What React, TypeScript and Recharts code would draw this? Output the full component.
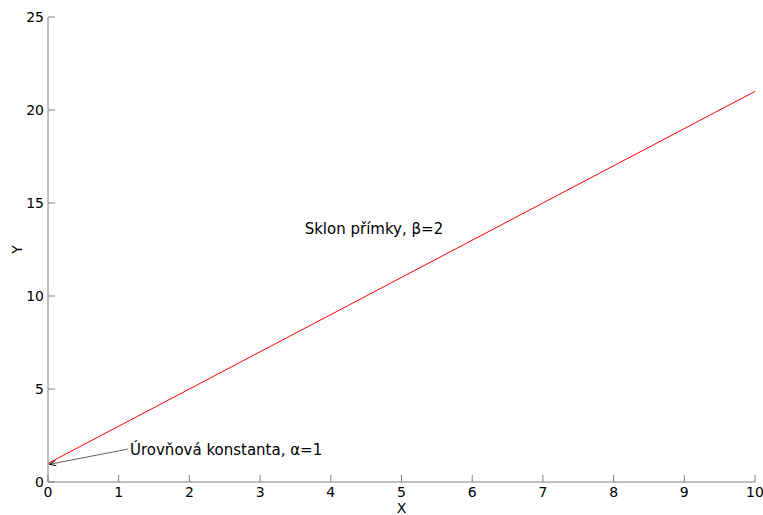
import React from 'react';
import {
  LineChart,
  Line,
  XAxis,
  YAxis,
  ReferenceDot,
  ReferenceLine,
} from 'recharts';

// Regression line Y = alpha + beta * X
const xValues = [0, 10];
const yValues = [1, 21];
const xTicks = [0, 1, 2, 3, 4, 5, 6, 7, 8, 9, 10];
const yTicks = [0, 5, 10, 15, 20, 25];

const slopeLabel = 'Sklon přímky, β=2';
const slopeLabelAt = { x: 3.63, y: 13.6 };
const interceptLabel = 'Úrovňová konstanta, α=1';
const interceptLabelAt = { x: 1.16, y: 1.72 };
const interceptPoint = { x: 0.02, y: 0.95 };

const data = xValues.map((x, i) => ({ x, y: yValues[i] }));

const FONT = '"DejaVu Sans", Verdana, sans-serif';
const AXIS = '#808080';
const TICK_LEN = 7;

const BottomTick = (props: any) => {
  const { x, y, payload } = props;
  return (
    <g>
      <line x1={x} y1={y} x2={x} y2={y - TICK_LEN} stroke={AXIS} />
      <text x={x} y={y + 15} textAnchor="middle" fontFamily={FONT} fontSize={14} fill="#000">
        {payload.value}
      </text>
    </g>
  );
};

const TopTick = (props: any) => {
  const { x, y } = props;
  return <line x1={x} y1={y} x2={x} y2={y + TICK_LEN} stroke={AXIS} />;
};

const LeftTick = (props: any) => {
  const { x, y, payload } = props;
  return (
    <g>
      <line x1={x} y1={y} x2={x + TICK_LEN} y2={y} stroke={AXIS} />
      <text x={x - 4} y={y + 5} textAnchor="end" fontFamily={FONT} fontSize={14} fill="#000">
        {payload.value}
      </text>
    </g>
  );
};

const RightTick = (props: any) => {
  const { x, y } = props;
  return <line x1={x} y1={y} x2={x - TICK_LEN} y2={y} stroke={AXIS} />;
};

const ArrowShape = (props: any) => {
  const { x1, y1, x2, y2 } = props;
  const ang = Math.atan2(y2 - y1, x2 - x1);
  const len = 7;
  const spread = 0.38;
  const ax = x2 - len * Math.cos(ang - spread);
  const ay = y2 - len * Math.sin(ang - spread);
  const bx = x2 - len * Math.cos(ang + spread);
  const by = y2 - len * Math.sin(ang + spread);
  return (
    <g>
      <line x1={x1} y1={y1} x2={x2} y2={y2} stroke="#606060" strokeWidth={1} />
      <path d={`M${ax},${ay} L${x2},${y2} L${bx},${by}`} fill="none" stroke="#000" strokeWidth={1} />
    </g>
  );
};

const textLabel = (value: string) => (props: any) => {
  const { viewBox } = props;
  const cx = viewBox.x + (viewBox.width || 0) / 2;
  const cy = viewBox.y + (viewBox.height || 0) / 2;
  return (
    <text x={cx} y={cy + 5} textAnchor="start" fontFamily={FONT} fontSize={15} fill="#000">
      {value}
    </text>
  );
};

const YTitle = (props: any) => {
  const { viewBox } = props;
  const cx = 17;
  const cy = viewBox.y + viewBox.height / 2;
  return (
    <text
      x={cx}
      y={cy}
      transform={`rotate(-90 ${cx} ${cy})`}
      textAnchor="middle"
      dominantBaseline="central"
      fontFamily={FONT}
      fontSize={14}
      fill="#000"
    >
      Y
    </text>
  );
};

const XTitle = (props: any) => {
  const { viewBox } = props;
  const cx = viewBox.x + viewBox.width / 2;
  return (
    <text x={cx} y={513} textAnchor="middle" fontFamily={FONT} fontSize={14} fill="#000">
      X
    </text>
  );
};

export default function App() {
  return (
    <div style={{ position: 'absolute', left: 0, top: 0, background: '#fff' }}>
      <LineChart
        width={763}
        height={515}
        data={data}
        margin={{ top: 17, right: 8, bottom: 0, left: 0 }}
      >
        <XAxis
          xAxisId="b"
          dataKey="x"
          type="number"
          domain={[0, 10]}
          ticks={xTicks}
          interval={0}
          height={33}
          tickSize={0}
          tickMargin={0}
          tickLine={false}
          axisLine={{ stroke: AXIS }}
          tick={<BottomTick />}
          label={<XTitle />}
        />
        <XAxis
          xAxisId="t"
          orientation="top"
          dataKey="x"
          type="number"
          domain={[0, 10]}
          ticks={xTicks}
          interval={0}
          height={0}
          tickSize={0}
          tickMargin={0}
          tickLine={false}
          axisLine={{ stroke: AXIS }}
          tick={<TopTick />}
        />
        <YAxis
          yAxisId="l"
          type="number"
          domain={[0, 25]}
          ticks={yTicks}
          interval={0}
          width={48}
          tickSize={0}
          tickMargin={0}
          tickLine={false}
          axisLine={{ stroke: AXIS }}
          tick={<LeftTick />}
          label={<YTitle />}
        />
        <YAxis
          yAxisId="r"
          orientation="right"
          type="number"
          domain={[0, 25]}
          ticks={yTicks}
          interval={0}
          width={0}
          tickSize={0}
          tickMargin={0}
          tickLine={false}
          axisLine={{ stroke: AXIS }}
          tick={<RightTick />}
        />
        <Line
          xAxisId="b"
          yAxisId="l"
          type="linear"
          dataKey="y"
          stroke="#ff0000"
          strokeWidth={1}
          dot={false}
          activeDot={false}
          isAnimationActive={false}
        />
        <ReferenceLine
          xAxisId="b"
          yAxisId="l"
          segment={[
            { x: interceptLabelAt.x - 0.03, y: interceptLabelAt.y + 0.05 },
            { x: interceptPoint.x, y: interceptPoint.y },
          ]}
          shape={<ArrowShape />}
          ifOverflow="visible"
        />
        <ReferenceDot
          xAxisId="b"
          yAxisId="l"
          x={slopeLabelAt.x}
          y={slopeLabelAt.y}
          r={0}
          stroke="none"
          fill="none"
          label={textLabel(slopeLabel)}
        />
        <ReferenceDot
          xAxisId="b"
          yAxisId="l"
          x={interceptLabelAt.x}
          y={interceptLabelAt.y}
          r={0}
          stroke="none"
          fill="none"
          label={textLabel(interceptLabel)}
        />
      </LineChart>
    </div>
  );
}
